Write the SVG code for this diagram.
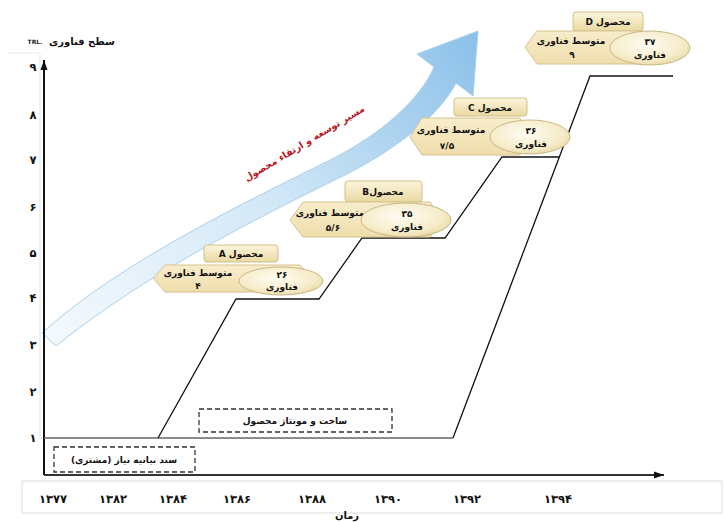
<svg xmlns="http://www.w3.org/2000/svg" width="725" height="522" viewBox="0 0 725 522">
<defs>
<style>
.fa{font-family:"DejaVu Sans",sans-serif;font-weight:bold;fill:#111;text-anchor:middle;direction:rtl}
.lbl{font-size:9px}
.ax{font-size:11.5px}
.ttl{fill:url(#gTitle);stroke:#d3c08a;stroke-width:1}
.hex{fill:url(#gHex);stroke:#d6c38c;stroke-width:1}
.ell{fill:url(#gEll);stroke:#c8b887;stroke-width:1}
.dash{fill:none;stroke:#333;stroke-width:1.3;stroke-dasharray:5 3}
.ln{fill:none;stroke:#111;stroke-width:1.3}
</style>
<linearGradient id="gTitle" x1="0" y1="0" x2="0" y2="1">
<stop offset="0" stop-color="#fcf5dc"/><stop offset="1" stop-color="#ead9a3"/>
</linearGradient>
<linearGradient id="gHex" x1="0" y1="0" x2="0" y2="1">
<stop offset="0" stop-color="#f8eccb"/><stop offset="1" stop-color="#efdeac"/>
</linearGradient>
<radialGradient id="gEll" cx="0.45" cy="0.4" r="0.65">
<stop offset="0" stop-color="#fffdf3"/><stop offset="0.7" stop-color="#f6ecc9"/><stop offset="1" stop-color="#e6d6a2"/>
</radialGradient>
<linearGradient id="gArrow" gradientUnits="userSpaceOnUse" x1="50" y1="335" x2="470" y2="40">
<stop offset="0" stop-color="#f4f9fd"/><stop offset="0.5" stop-color="#d3e8f7"/><stop offset="1" stop-color="#8ec2ea"/>
</linearGradient>
<marker id="ah" viewBox="0 0 10 10" refX="10" refY="5" markerWidth="10" markerHeight="10" orient="auto" markerUnits="userSpaceOnUse">
<path d="M0,1.5 L10,5 L0,8.5 z" fill="#111"/>
</marker>
</defs>
<rect width="725" height="522" fill="#fff"/>

<!-- big development arrow -->
<g id="devArrow">
<path d="M42,333 C120,262 250,200 330,160 C380,135 420,100 434,67 L417,54 L478,31 L473,96 L456,83 C440,115 395,150 345,175 C270,212 150,270 56,346 Z" fill="url(#gArrow)" stroke="#a8d0ee" stroke-width="1"/>
<text class="fa" font-size="9.5" style="fill:#b8161e" transform="translate(306,146) rotate(-31)">مسیر توسعه و ارتقاء محصول</text>
</g>

<!-- axes -->
<g id="axes">
<line x1="40" y1="54" x2="40" y2="440" stroke="#e2e2e2" stroke-width="1"/>
<line x1="8" y1="53" x2="40" y2="53" stroke="#ececec" stroke-width="1"/>
<line x1="44" y1="475" x2="44" y2="60" stroke="#111" stroke-width="2" marker-end="url(#ah)"/>
<line x1="44" y1="475" x2="664" y2="475" stroke="#333" stroke-width="1.8" marker-end="url(#ah)"/>
<text class="fa" font-size="10" x="82" y="45">سطح فناوری</text>
<text x="35" y="44" font-family="DejaVu Sans, sans-serif" font-weight="bold" font-size="6" text-anchor="middle" fill="#222">TRL.</text>
<g class="fa ax">
<text x="33" y="71">۹</text>
<text x="33" y="119">۸</text>
<text x="33" y="164">۷</text>
<text x="33" y="211">۶</text>
<text x="33" y="257">۵</text>
<text x="33" y="302">۴</text>
<text x="33" y="349">۳</text>
<text x="33" y="396">۲</text>
<text x="33" y="442">۱</text>
</g>
<rect x="22" y="481" width="700" height="32" fill="none" stroke="#dedede" stroke-width="1"/>
<g class="fa ax">
<text x="53" y="503">۱۳۷۷</text>
<text x="113" y="503">۱۳۸۲</text>
<text x="173" y="503">۱۳۸۴</text>
<text x="237" y="503">۱۳۸۶</text>
<text x="312" y="503">۱۳۸۸</text>
<text x="388" y="503">۱۳۹۰</text>
<text x="467" y="503">۱۳۹۲</text>
<text x="558" y="503">۱۳۹۴</text>
</g>
<text class="fa" font-size="10" x="347" y="519">زمان</text>
</g>

<!-- phase boxes -->
<g id="needStatement">
<rect class="dash" x="54" y="447" width="141" height="25"/>
<text class="fa lbl" x="124" y="463">سند بیانیه نیاز (مشتری)</text>
</g>
<g id="assembly">
<rect class="dash" x="199" y="409" width="193" height="23"/>
<text class="fa lbl" x="295" y="424">ساخت و مونتاژ محصول</text>
</g>

<!-- connectors -->
<g id="connectors">
<line x1="44" y1="438" x2="453" y2="438" stroke="#666" stroke-width="1.5"/>
<polyline class="ln" points="158,438 236,299 319,299 362,238 445,238 502,157 560,157"/>
<polyline class="ln" points="453,438 590,76 673,76"/>
</g>

<!-- product A -->
<g id="productA">
<rect class="ttl" x="204" y="245" width="74" height="17" rx="3"/>
<text class="fa lbl" x="241" y="257">محصول A</text>
<polygon class="hex" points="153,278 165,265 300,265 312,278 300,292 165,292"/>
<text class="fa lbl" x="198" y="276">متوسط فناوری</text>
<text class="fa lbl" x="198" y="289">۴</text>
<ellipse class="ell" cx="281" cy="281" rx="42" ry="14"/>
<text class="fa lbl" x="282" y="278">۲۶</text>
<text class="fa lbl" x="282" y="290">فناوری</text>
</g>

<!-- product B -->
<g id="productB">
<rect class="ttl" x="345" y="181" width="77" height="21" rx="3"/>
<text class="fa lbl" x="383" y="195">محصولB</text>
<polygon class="hex" points="290,220 303,202 430,202 442,220 430,237 303,237"/>
<text class="fa lbl" x="330" y="216">متوسط فناوری</text>
<text class="fa lbl" x="333" y="231">۵/۶</text>
<ellipse class="ell" cx="406" cy="220" rx="45" ry="17"/>
<text class="fa lbl" x="407" y="217">۳۵</text>
<text class="fa lbl" x="407" y="230">فناوری</text>
</g>

<!-- product C -->
<g id="productC">
<rect class="ttl" x="454" y="98" width="73" height="18" rx="3"/>
<text class="fa lbl" x="490" y="111">محصول C</text>
<polygon class="hex" points="410,137 422,118 520,118 532,137 520,155 422,155"/>
<text class="fa lbl" x="451" y="133">متوسط فناوری</text>
<text class="fa lbl" x="447" y="149">۷/۵</text>
<ellipse class="ell" cx="530" cy="137" rx="40" ry="17"/>
<text class="fa lbl" x="531" y="134">۳۶</text>
<text class="fa lbl" x="531" y="147">فناوری</text>
</g>

<!-- product D -->
<g id="productD">
<rect class="ttl" x="573" y="12" width="70" height="19" rx="3"/>
<text class="fa lbl" x="608" y="25">محصول D</text>
<polygon class="hex" points="525,47 537,31 640,31 652,47 640,64 537,64"/>
<text class="fa lbl" x="571" y="44">متوسط فناوری</text>
<text class="fa lbl" x="572" y="58">۹</text>
<ellipse class="ell" cx="650" cy="48" rx="40" ry="17"/>
<text class="fa lbl" x="650" y="45">۳۷</text>
<text class="fa lbl" x="650" y="58">فناوری</text>
</g>
</svg>
